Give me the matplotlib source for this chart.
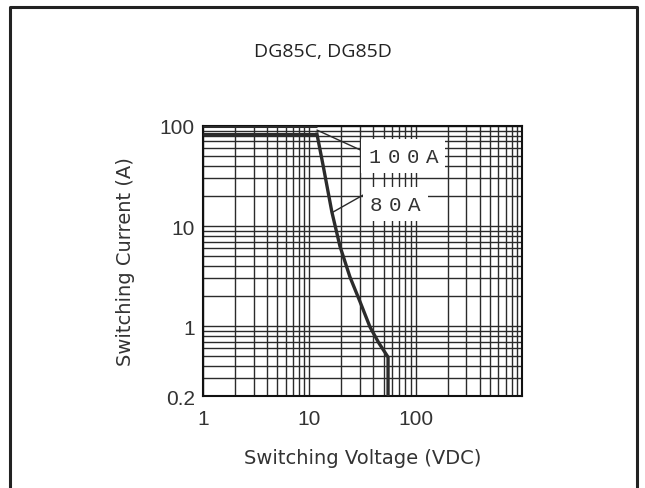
import numpy as np
import matplotlib.pyplot as plt
from matplotlib.ticker import LogLocator, NullFormatter, FixedLocator, FixedFormatter

# Curve data (voltage in VDC, current in A)
volt_flat = [1, 11.8]
amp_100 = [100, 100]
amp_80 = [83, 83]
volt_drop = [11.8, 13.5, 16.3, 19.4, 24.1, 30.0, 37.2, 45.0, 55.0, 55.0]
amp_drop = [83, 40, 13.8, 6.3, 3.1, 1.75, 0.98, 0.68, 0.49, 0.2]

y_ticks = [100, 10, 1, 0.2]
y_tick_labels = ['100', '10', '1', '0.2']
x_ticks = [1, 10, 100]
x_tick_labels = ['1', '10', '100']

ink = '#2b2b2b'

fig = plt.figure(figsize=(6.45, 4.89), dpi=100)
ax = fig.add_axes([0.3147, 0.188, 0.4946, 0.5523])

ax.set_xscale('log')
ax.set_yscale('log')
ax.set_xlim(1, 1000)
ax.set_ylim(0.2, 100)

# dense log grid like the datasheet
ax.xaxis.set_minor_locator(LogLocator(base=10, subs=np.arange(2, 10), numticks=10))
ax.yaxis.set_major_locator(FixedLocator(y_ticks))
ax.yaxis.set_major_formatter(FixedFormatter(y_tick_labels))
ax.yaxis.set_minor_locator(LogLocator(base=10, subs=np.arange(1, 10), numticks=10))
ax.xaxis.set_minor_formatter(NullFormatter())
ax.yaxis.set_minor_formatter(NullFormatter())
ax.set_xticks(x_ticks)
ax.set_xticklabels(x_tick_labels)
ax.grid(True, which='both', color=ink, lw=1.0)
ax.tick_params(which='both', length=0, labelsize=15, labelcolor='#333333')
ax.tick_params(axis='x', pad=9)
ax.tick_params(axis='y', pad=6)
for lab in ax.get_xticklabels() + ax.get_yticklabels():
    lab.set_family('Liberation Sans')
for s in ax.spines.values():
    s.set_color('#111111')
    s.set_linewidth(1.5)

ax.plot(volt_flat, amp_100, color=ink, lw=2.2, solid_capstyle='butt', zorder=3)
ax.plot(volt_flat, amp_80, color=ink, lw=2.2, solid_capstyle='butt', zorder=3)
ax.plot(volt_drop, amp_drop, color=ink, lw=2.4, zorder=3)

# callouts: label, point on curve, leader end, text anchor
callouts = [('100A', (11.8, 91), (32, 56), (35.7, 50)),
            ('80A', (16.7, 13.8), (32, 20.4), (37.2, 16.6))]
for txt, tip, end, pos in callouts:
    ax.annotate('', xy=tip, xytext=end,
                arrowprops=dict(arrowstyle='-', color=ink, lw=1.0,
                                shrinkA=0, shrinkB=0), zorder=4)
    for i, ch in enumerate(txt):
        ax.annotate(ch, xy=pos, xytext=(i * 13.8, 0), textcoords='offset points',
                    fontsize=15, family='Liberation Mono', color='#333333',
                    va='center', ha='left', zorder=6,
                    bbox=dict(boxstyle='square,pad=0.35', fc='white', ec='none'))

ax.set_xlabel('Switching Voltage (VDC)', fontsize=14, color='#333333', labelpad=15)
ax.set_ylabel('Switching Current (A)', fontsize=14, color='#333333', labelpad=18)
fig.text(0.5, 0.893, 'DG85C, DG85D', ha='center', va='center',
         fontsize=14, family='Open Sans', color='#222222')

# outer frame (open at bottom)
fig.add_artist(plt.Line2D([0.016, 0.016, 0.987, 0.987], [0.0, 0.984, 0.984, 0.0],
                          transform=fig.transFigure, color='#222222', lw=2.2))

fig.savefig('out.png', dpi=100)
